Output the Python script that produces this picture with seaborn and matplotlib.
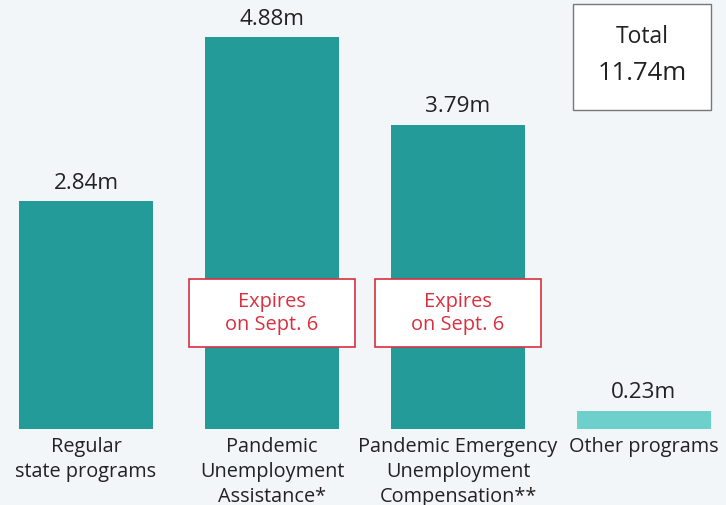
import matplotlib
matplotlib.use("Agg")
import matplotlib.pyplot as plt
import seaborn as sns
from matplotlib.patches import Rectangle

categories = ["Regular\nstate programs",
              "Pandemic\nUnemployment\nAssistance*",
              "Pandemic Emergency\nUnemployment\nCompensation**",
              "Other programs"]
values = [2.84, 4.88, 3.79, 0.23]
value_labels = ["2.84m", "4.88m", "3.79m", "0.23m"]
bar_colors = ["#239c99", "#239c99", "#239c99", "#6dd0ca"]
expiring = [False, True, True, False]
expire_text = "Expires\non Sept. 6"
total_title = "Total"
total_value = "11.74m"

sns.set_theme(style="white")
plt.rcParams['font.family'] = ['Open Sans', 'DejaVu Sans']

bg = "#f3f6f9"
fig = plt.figure(figsize=(7.26, 5.06), dpi=100, facecolor=bg)
ax = fig.add_axes([0, 76/506, 1, 430/506])
ax.set_facecolor(bg)

sns.barplot(x=categories, y=values, hue=categories, palette=bar_colors,
            legend=False, width=0.72, saturation=1, linewidth=0, ax=ax)

ax.set_xlim(-86/186, 640/186)
ax.set_ylim(0, 430/80.3)
for s in ax.spines.values():
    s.set_visible(False)
ax.set_yticks([])
ax.tick_params(axis='x', length=0, pad=5)
for t in ax.get_xticklabels():
    t.set_fontsize(14.3)
    t.set_color("#222222")
    t.set_linespacing(1.32)
    t.set_verticalalignment('top')
ax.set_xlabel("")
ax.set_ylabel("")

for i, (v, lab) in enumerate(zip(values, value_labels)):
    ax.annotate(lab, (i, v), xytext=(0, 6), textcoords="offset points",
                ha="center", va="bottom", fontsize=16.2, color="#222222")

red = "#d8303f"
bw = 166/186
bh = 68/80.3
yc = (430 - 314) / 80.3
for i, e in enumerate(expiring):
    if e:
        ax.add_patch(Rectangle((i - bw/2, yc - bh/2), bw, bh, facecolor="white",
                               edgecolor=red, lw=1.2, zorder=5))
        ax.text(i, yc, expire_text, ha="center", va="center", color=red,
                fontsize=14.4, linespacing=1.2, zorder=6)

# total box
fig.patches.append(Rectangle((573/726, 1 - 111/506), 138/726, 106/506,
                             transform=fig.transFigure, facecolor="white",
                             edgecolor="#777777", lw=1.0))
fig.text(642/726, 1 - 37/506, total_title, ha="center", va="center",
         fontsize=16.5, color="#222222")
fig.text(642/726, 1 - 73/506, total_value, ha="center", va="center",
         fontsize=18.5, color="#222222")

fig.savefig("out.png", dpi=100, facecolor=bg)
